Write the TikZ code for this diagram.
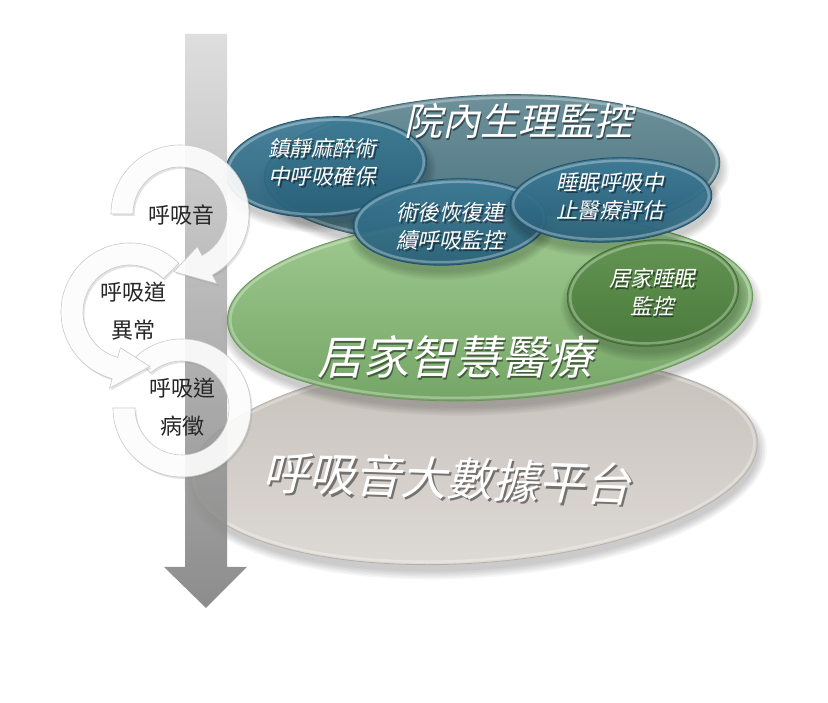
\documentclass[tikz,border=0pt]{standalone}
\usepackage{fontspec}
\newfontfamily\cjk{Noto Sans CJK TC}
\newfontfamily\cjkit{Noto Sans CJK TC}[FakeSlant=0.22]
\usetikzlibrary{calc,shadows}

\definecolor{grayTop}{HTML}{C6C0BA}
\definecolor{grayBot}{HTML}{DEDAD6}
\definecolor{grayRim}{HTML}{B8B1AA}
\definecolor{tealTop}{HTML}{6F929B}
\definecolor{tealBot}{HTML}{45707D}
\definecolor{tealRim}{HTML}{3D6470}
\definecolor{greenTop}{HTML}{A2CC93}
\definecolor{greenBot}{HTML}{74A565}
\definecolor{greenRim}{HTML}{679857}
\definecolor{stealTop}{HTML}{3F7D98}
\definecolor{stealBot}{HTML}{275F7A}
\definecolor{stealRim}{HTML}{1F5068}
\definecolor{dgreenTop}{HTML}{629552}
\definecolor{dgreenBot}{HTML}{4A7A3B}
\definecolor{dgreenRim}{HTML}{3F6B32}
\definecolor{shaftTop}{HTML}{DADADA}
\definecolor{shaftBot}{HTML}{7D7D7D}
\definecolor{ringEdge}{HTML}{C8C8C8}
\definecolor{ctextcol}{HTML}{262626}

% #1 x, #2 y, #3 rx, #4 ry, #5 rotation, #6 top, #7 bottom, #8 rim, #9 opacity
\newcommand\Ell[9]{%
  \begin{scope}[rotate around={#5:(#1,#2)}]
    \foreach \k in {0,...,5}
      \fill[black,opacity=0.035] (#1+1,#2-7) ellipse[x radius=#3+\k*1.6, y radius=#4+\k*1.6];
    \path[top color=#6, bottom color=#7, fill opacity=#9, draw=#8, line width=0.8]
      (#1,#2) ellipse[x radius=#3, y radius=#4];
    \draw[white, opacity=0.3, line width=2.5] (#1,#2) ellipse[x radius=#3-3, y radius=#4-3];
  \end{scope}}

% #1 name, #2 x, #3 y, #4 style, #5 text, #6 rotation
\newcommand\ShText[6]{%
  \node[#4, text=black, opacity=0.45, rotate=#6] at (#2+1.8,#3-2.2) {#5};
  \node[#4, rotate=#6] (#1) at (#2,#3) {#5};}

\begin{document}
\begin{tikzpicture}[x=1pt,y=1pt,
  bigtext/.style={font=\cjkit\fontsize{46}{50}\selectfont, text=white, inner sep=0},
  midtext/.style={font=\cjkit\fontsize{38}{42}\selectfont, text=white, inner sep=0},
  etext/.style={font=\cjkit\fontsize{21.5}{28}\selectfont, text=white, align=center, inner sep=0},
  ctext/.style={font=\cjk\fontsize{22}{38}\selectfont, text=ctextcol, align=center, inner sep=0},
  ring/.style={fill=white, fill opacity=0.9, draw=ringEdge, line width=0.6,
    drop shadow={opacity=0.22, shadow xshift=1.5pt, shadow yshift=-2pt}},
  shaft/.style={top color=shaftTop, bottom color=shaftBot, opacity=0.88}
]
\useasboundingbox (0,0) rectangle (828,703);
\fill[white] (0,0) rectangle (828,703);

% ---- platform ellipses ----
\Ell{474}{243}{284}{103}{4}{grayTop}{grayBot}{grayRim}{1}
\Ell{492}{533}{228}{75}{2}{tealTop}{tealBot}{tealRim}{1}
\Ell{490}{395}{263}{92}{3}{greenTop}{greenBot}{greenRim}{1}
\Ell{326}{536}{101}{50}{4}{stealTop}{stealBot}{stealRim}{0.92}
\Ell{450}{481}{97}{43}{3}{stealTop}{stealBot}{stealRim}{0.92}
\Ell{611}{503}{101}{42}{3}{stealTop}{stealBot}{stealRim}{0.92}
\Ell{653}{410}{86}{53}{5}{dgreenTop}{dgreenBot}{dgreenRim}{0.95}

% ---- ellipse texts ----
\ShText{tHosp}{518}{582}{midtext}{院內生理監控}{0}
\ShText{tHome}{455}{346}{bigtext}{居家智慧醫療}{0}
\ShText{tData}{447}{225}{bigtext}{呼吸音大數據平台}{-2}
\ShText{tSed}{322}{541}{etext}{鎮靜麻醉術\\中呼吸確保}{0}
\ShText{tPost}{450}{477}{etext}{術後恢復連\\續呼吸監控}{0}
\ShText{tSleep}{610}{507}{etext}{睡眠呼吸中\\止醫療評估}{0}
\ShText{tHomeSleep}{652}{411}{etext}{居家睡眠\\監控}{0}

% ---- vertical arrow ----
\path[shaft] (185,669) -- (227,669) -- (227,136) -- (247,136) -- (206,95)
  -- (164,136) -- (185,136) -- cycle;

% ---- circular arrows ----
\begin{scope}[shift={(182,295)}]
  \path[ring] (132:69) arc[start angle=132, end angle=-180, radius=69]
    -- (180:47) arc[start angle=-180, end angle=132, radius=47] -- cycle;
  \coordinate (c3) at (0,0);
\end{scope}
\begin{scope}[shift={(130,391)}]
  \path[ring] (45:69) arc[start angle=45, end angle=255, radius=69]
    -- (255:79) -- (290:58) -- (255:37) -- (255:47)
    arc[start angle=255, end angle=45, radius=47] -- cycle;
  \coordinate (c2) at (0,0);
\end{scope}
\begin{scope}[shift={(180,489)}]
  \path[ring] (180:69) arc[start angle=180, end angle=-62, radius=69]
    -- (-62:79) -- (-96:58) -- (-62:37) -- (-62:47)
    arc[start angle=-62, end angle=180, radius=47] -- cycle;
  \coordinate (c1) at (0,0);
\end{scope}

% ---- circle texts ----
\node[ctext] (s1) at (181,488) {呼吸音};
\node[ctext] (s2) at (133,392) {呼吸道\\異常};
\node[ctext] (s3) at (182,296) {呼吸道\\病徵};
\end{tikzpicture}
\end{document}
